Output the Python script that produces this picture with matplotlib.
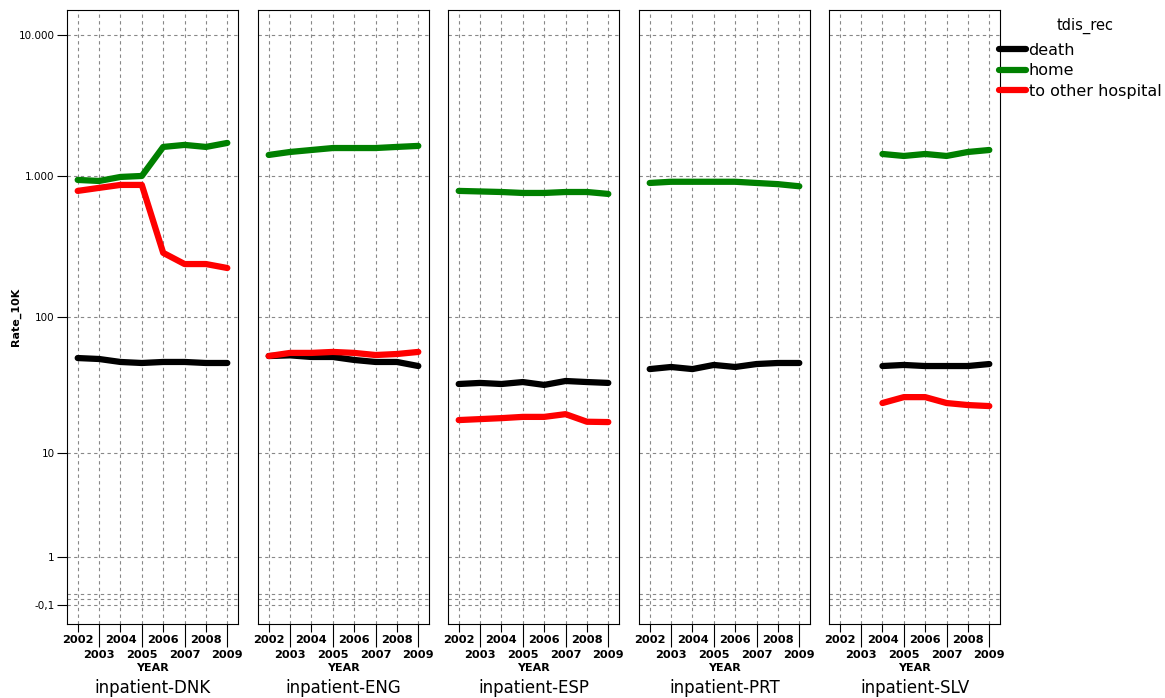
import matplotlib.pyplot as plt
from matplotlib.ticker import FixedLocator, FixedFormatter, NullFormatter
import numpy as np

# data (Rate_10K per year)
years = [2002, 2003, 2004, 2005, 2006, 2007, 2008, 2009]
panels = ["inpatient-DNK", "inpatient-ENG", "inpatient-ESP", "inpatient-PRT", "inpatient-SLV"]
nan = np.nan

death = {
    "inpatient-DNK": [50.5, 49.7, 47.3, 46.5, 47.3, 47.3, 46.5, 46.5],
    "inpatient-ENG": [52.2, 52.8, 51.4, 51.4, 48.9, 47.3, 47.3, 44.2],
    "inpatient-ESP": [32.7, 33.3, 32.7, 33.8, 32.2, 34.4, 33.8, 33.3],
    "inpatient-PRT": [42.0, 43.5, 42.0, 45.0, 43.5, 45.7, 46.5, 46.5],
    "inpatient-SLV": [nan, nan, 44.2, 45.0, 44.2, 44.2, 44.2, 45.7],
}
home = {
    "inpatient-DNK": [943, 927, 990, 1006, 1617, 1671, 1617, 1726],
    "inpatient-ENG": [1418, 1489, 1538, 1588, 1588, 1588, 1617, 1644],
    "inpatient-ESP": [788, 781, 774, 762, 762, 774, 774, 750],
    "inpatient-PRT": [897, 915, 915, 915, 915, 897, 880, 850],
    "inpatient-SLV": [nan, nan, 1441, 1395, 1441, 1395, 1489, 1538],
}
other = {
    "inpatient-DNK": [788, 828, 869, 869, 286, 238, 238, 223],
    "inpatient-ENG": [52.2, 55.0, 55.0, 55.9, 55.0, 53.1, 54.0, 55.9],
    "inpatient-ESP": [17.7, 18.0, 18.3, 18.7, 18.7, 19.6, 17.2, 17.1],
    "inpatient-PRT": [nan] * 8,
    "inpatient-SLV": [nan, nan, 23.7, 26.2, 26.2, 23.7, 22.9, 22.5],
}
series = [("death", death, "black"), ("home", home, "#008000"), ("to other hospital", other, "#ff0000")]

ytick_vals = [-0.1, 1, 10, 100, 1000, 10000]
ytick_labels = ["-0,1", "1", "10", "100", "1.000", "10.000"]
extra_grid = [0, 0.1]


# SPSS style safe log: sign(x) * log10(1 + |x|)
def fwd(x):
    x = np.asarray(x, dtype=float)
    return np.sign(x) * np.log10(1 + np.abs(x))


def inv(y):
    y = np.asarray(y, dtype=float)
    return np.sign(y) * (10 ** np.abs(y) - 1)


fig = plt.figure(figsize=(11.65, 6.98), dpi=100)
lefts = [67, 258, 448, 639, 829]
W, H = 1165, 698
grid_kw = dict(color="#888888", linestyle=(0, (3, 3)), linewidth=0.8)

handles = []
for i, name in enumerate(panels):
    ax = fig.add_axes([lefts[i] / W, 1 - 624 / H, 171 / W, 614 / H])
    ax.set_yscale("function", functions=(fwd, inv))
    ax.set_ylim(-0.494, 15135)
    ax.set_xlim(2001.5, 2009.5)

    for lab, d, col in series:
        ln, = ax.plot(years, d[name], color=col, lw=4.5, solid_capstyle="round",
                      solid_joinstyle="round", label=lab, zorder=3)
        if i == 0:
            handles.append(ln)

    ax.yaxis.set_major_locator(FixedLocator(ytick_vals))
    ax.yaxis.set_minor_locator(FixedLocator(extra_grid))
    ax.yaxis.set_minor_formatter(NullFormatter())
    if i == 0:
        ax.yaxis.set_major_formatter(FixedFormatter(ytick_labels))
        ax.tick_params(axis="y", which="major", length=7, width=0.8, pad=2, labelsize=7.5)
        ax.set_ylabel("Rate_10K", fontsize=8, fontweight="bold", labelpad=-2)
    else:
        ax.yaxis.set_major_formatter(NullFormatter())
        ax.tick_params(axis="y", which="major", length=0)
    ax.tick_params(axis="y", which="minor", length=0)

    # even years on the top row, odd years lower with long ticks
    ax.xaxis.set_major_locator(FixedLocator(years[0::2]))
    ax.xaxis.set_minor_locator(FixedLocator(years[1::2]))
    ax.xaxis.set_major_formatter(FixedFormatter([str(y) for y in years[0::2]]))
    ax.xaxis.set_minor_formatter(FixedFormatter([str(y) for y in years[1::2]]))
    ax.tick_params(axis="x", which="major", length=5.8, width=0.8, pad=2, labelsize=8.2)
    ax.tick_params(axis="x", which="minor", length=16.6, width=0.8, pad=2, labelsize=8.2)
    for t in ax.get_xticklabels(which="both"):
        t.set_fontweight("bold")

    ax.grid(True, which="both", axis="both", **grid_kw)
    ax.set_axisbelow(True)
    for s in ax.spines.values():
        s.set_linewidth(0.8)

    ax.set_xlabel("YEAR", fontsize=8, fontweight="bold", labelpad=2)
    fig.text((lefts[i] + 85.5) / W, 1 - 688 / H, name, ha="center", va="center", fontsize=12)

fig.text(1085 / W, 1 - 26 / H, "tdis_rec", ha="center", va="center", fontsize=10.5)
fig.legend(handles=handles, labels=[s[0] for s in series],
           loc="upper left", bbox_to_anchor=(999 / W, 1 - 43 / H), frameon=False,
           fontsize=11.5, handlelength=1.7, handletextpad=0.15,
           labelspacing=0.33, borderaxespad=0, borderpad=0)

fig.savefig("out.png", dpi=100)
